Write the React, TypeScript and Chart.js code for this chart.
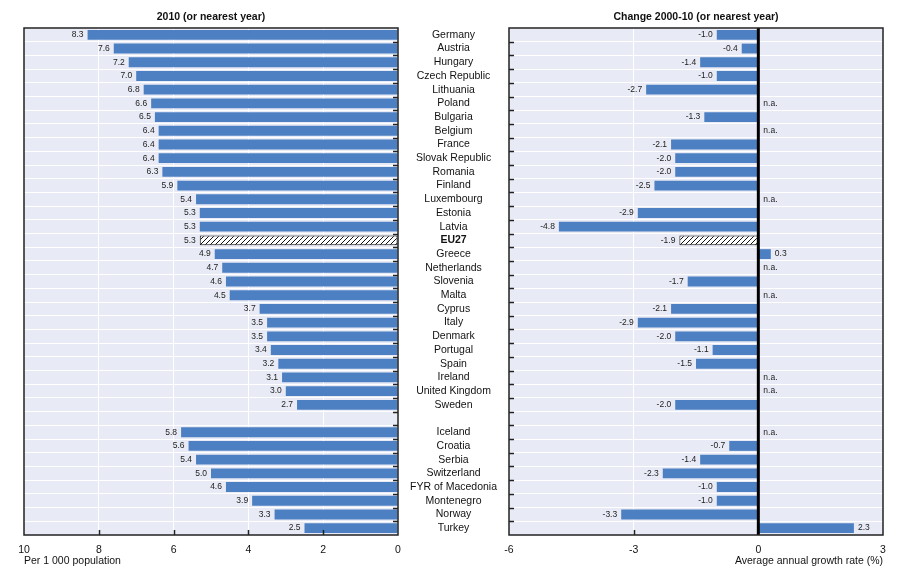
import React, { useEffect, useRef } from 'react';
import { Chart, registerables } from 'chart.js';
Chart.register(...registerables);

const countries = [
  'Germany', 'Austria', 'Hungary', 'Czech Republic', 'Lithuania', 'Poland', 'Bulgaria', 'Belgium',
  'France', 'Slovak Republic', 'Romania', 'Finland', 'Luxembourg', 'Estonia', 'Latvia', 'EU27',
  'Greece', 'Netherlands', 'Slovenia', 'Malta', 'Cyprus', 'Italy', 'Denmark', 'Portugal', 'Spain',
  'Ireland', 'United Kingdom', 'Sweden', '', 'Iceland', 'Croatia', 'Serbia', 'Switzerland',
  'FYR of Macedonia', 'Montenegro', 'Norway', 'Turkey',
];
const rate2010: (number | null)[] = [
  8.3, 7.6, 7.2, 7.0, 6.8, 6.6, 6.5, 6.4, 6.4, 6.4, 6.3, 5.9, 5.4, 5.3, 5.3, 5.3,
  4.9, 4.7, 4.6, 4.5, 3.7, 3.5, 3.5, 3.4, 3.2, 3.1, 3.0, 2.7, null,
  5.8, 5.6, 5.4, 5.0, 4.6, 3.9, 3.3, 2.5,
];
const change2000_10: (number | null)[] = [
  -1.0, -0.4, -1.4, -1.0, -2.7, null, -1.3, null, -2.1, -2.0, -2.0, -2.5, null, -2.9, -4.8, -1.9,
  0.3, null, -1.7, null, -2.1, -2.9, -2.0, -1.1, -1.5, null, null, -2.0, null,
  null, -0.7, -1.4, -2.3, -1.0, -1.0, -3.3, 2.3,
];
const highlight = 'EU27';
const leftTitle = '2010 (or nearest year)';
const rightTitle = 'Change 2000-10 (or nearest year)';
const leftAxisTitle = 'Per 1 000 population';
const rightAxisTitle = 'Average annual growth rate (%)';
const leftRange = { min: 0, max: 10, step: 2 };
const rightRange = { min: -6, max: 3, step: 3 };

const FONT = "'Liberation Sans', Arial, sans-serif";
const BLUE = '#4d80c3';
const PLOT_BG = '#e8ebf5';
const DARK = '#222222';

function makeHatch(): CanvasPattern | string {
  const c = document.createElement('canvas');
  c.width = 5;
  c.height = 5;
  const g = c.getContext('2d');
  if (!g) return '#ffffff';
  g.fillStyle = '#ffffff';
  g.fillRect(0, 0, 5, 5);
  g.strokeStyle = '#111111';
  g.lineWidth = 1;
  g.beginPath();
  g.moveTo(-1, 6);
  g.lineTo(6, -1);
  g.moveTo(-1, 1);
  g.lineTo(1, -1);
  g.moveTo(4, 6);
  g.lineTo(6, 4);
  g.stroke();
  const p = g.createPattern(c, 'repeat');
  return p || '#ffffff';
}

const panelPlugin = (title: string, side: 'left' | 'right') => ({
  id: 'panel' + side,
  beforeDraw(chart: any) {
    const { ctx, chartArea: a } = chart;
    ctx.save();
    ctx.fillStyle = PLOT_BG;
    ctx.fillRect(a.left, a.top, a.right - a.left, a.bottom - a.top);
    ctx.restore();
  },
  afterDatasetsDraw(chart: any) {
    const { ctx, chartArea: a } = chart;
    const xs = chart.scales.x;
    const ys = chart.scales.y;
    const data = chart.data.datasets[0].data as (number | null)[];
    const labels = chart.data.labels as string[];
    const meta = chart.getDatasetMeta(0);
    ctx.save();
    ctx.font = `8.5px ${FONT}`;
    ctx.fillStyle = DARK;
    ctx.textBaseline = 'middle';
    data.forEach((v, i) => {
      const y = ys.getPixelForValue(i);
      if (v === null || v === undefined) {
        if (side === 'right' && labels[i]) {
          ctx.textAlign = 'left';
          ctx.fillText('n.a.', xs.getPixelForValue(0) + 5, y);
        }
        return;
      }
      const el = meta.data[i];
      const txt = v.toFixed(1);
      if (side === 'left' || v < 0) {
        ctx.textAlign = 'right';
        ctx.fillText(txt, el.x - 4, y);
      } else {
        ctx.textAlign = 'left';
        ctx.fillText(txt, el.x + 4, y);
      }
    });
    // zero line
    if (side === 'right') {
      const x0 = xs.getPixelForValue(0);
      ctx.strokeStyle = '#000000';
      ctx.lineWidth = 3;
      ctx.beginPath();
      ctx.moveTo(x0, a.top);
      ctx.lineTo(x0, a.bottom);
      ctx.stroke();
    }
    // tick marks
    ctx.strokeStyle = DARK;
    ctx.lineWidth = 1.5;
    ctx.beginPath();
    const n = labels.length;
    for (let i = 0; i < n - 1; i++) {
      const yb = Math.round((ys.getPixelForValue(i) + ys.getPixelForValue(i + 1)) / 2) + 0.5;
      if (side === 'left') {
        ctx.moveTo(a.right - 5, yb);
        ctx.lineTo(a.right, yb);
      } else {
        ctx.moveTo(a.left, yb);
        ctx.lineTo(a.left + 5, yb);
      }
    }
    xs.ticks.forEach((t: any) => {
      const xv = t.value;
      if (xv === xs.min || xv === xs.max || xv === 0) return;
      const xp = Math.round(xs.getPixelForValue(xv)) + 0.5;
      ctx.moveTo(xp, a.bottom);
      ctx.lineTo(xp, a.bottom - 5);
    });
    ctx.stroke();
    // border
    ctx.strokeStyle = DARK;
    ctx.lineWidth = 1.5;
    ctx.strokeRect(a.left, a.top, a.right - a.left, a.bottom - a.top);
    // panel title
    ctx.font = `bold 10.5px ${FONT}`;
    ctx.fillStyle = '#111111';
    ctx.textAlign = 'center';
    ctx.textBaseline = 'middle';
    ctx.fillText(title, (a.left + a.right) / 2, 17);
    // axis title under the scale
    ctx.font = `10.5px ${FONT}`;
    if (side === 'left') {
      ctx.textAlign = 'left';
      ctx.fillText(leftAxisTitle, a.left, 561);
    } else {
      ctx.textAlign = 'right';
      ctx.fillText(rightAxisTitle, a.right, 561);
    }
    ctx.restore();
  },
});

function makeConfig(side: 'left' | 'right', hatch: any): any {
  const values = side === 'left' ? rate2010 : change2000_10;
  const range = side === 'left' ? leftRange : rightRange;
  return {
    type: 'bar',
    data: {
      labels: countries,
      datasets: [
        {
          data: values,
          backgroundColor: countries.map((c) => (c === highlight ? hatch : BLUE)),
          borderColor: countries.map((c) => (c === highlight ? '#111111' : BLUE)),
          borderWidth: countries.map((c) => (c === highlight ? 1 : 0)),
          borderSkipped: false,
          barPercentage: 0.72,
          categoryPercentage: 1,
        },
      ],
    },
    options: {
      indexAxis: 'y',
      animation: false,
      responsive: false,
      events: [],
      layout: {
        padding: side === 'left'
          ? { left: 24, right: 22, top: 28, bottom: 0 }
          : { left: 0, right: 24, top: 28, bottom: 0 },
      },
      plugins: { legend: { display: false }, tooltip: { enabled: false }, title: { display: false } },
      scales: {
        x: {
          type: 'linear',
          position: 'bottom',
          min: range.min,
          max: range.max,
          reverse: side === 'left',
          afterFit: (s: any) => { s.height = 40; },
          border: { display: false },
          grid: {
            drawTicks: false,
            lineWidth: 1,
            color: (c: any) => {
              const v = c.tick ? c.tick.value : null;
              if (v === range.min || v === range.max || v === 0) return 'rgba(0,0,0,0)';
              return '#ffffff';
            },
          },
          ticks: {
            stepSize: range.step,
            align: 'center',
            padding: 9,
            color: '#111111',
            font: { family: FONT, size: 10.5 },
            callback: (v: any) => String(v),
          },
          title: { display: false },
        },
        y: {
          type: 'category',
          position: side === 'left' ? 'right' : 'left',
          afterFit: (s: any) => { s.width = side === 'left' ? 0 : 109; },
          border: { display: false },
          grid: { drawTicks: false, color: '#ffffff', lineWidth: 1, offset: true },
          ticks: {
            display: side === 'right',
            autoSkip: false,
            crossAlign: 'center',
            padding: 12,
            color: '#111111',
            font: (c: any) => ({
              family: FONT,
              size: 10.5,
              weight: c.tick && c.tick.label === highlight ? 'bold' : 'normal',
            }),
          },
        },
      },
    },
    plugins: [panelPlugin(side === 'left' ? leftTitle : rightTitle, side)],
  };
}

export default function App() {
  const leftRef = useRef<HTMLCanvasElement>(null);
  const rightRef = useRef<HTMLCanvasElement>(null);
  useEffect(() => {
    const hatch = makeHatch();
    const l = new Chart(leftRef.current as HTMLCanvasElement, makeConfig('left', hatch));
    const r = new Chart(rightRef.current as HTMLCanvasElement, makeConfig('right', hatch));
    return () => {
      l.destroy();
      r.destroy();
    };
  }, []);
  return (
    <div style={{ position: 'absolute', left: 0, top: 0, width: 907, height: 575, background: '#ffffff' }}>
      <canvas ref={leftRef} width={420} height={575} style={{ position: 'absolute', left: 0, top: 0, width: 420, height: 575 }} />
      <canvas ref={rightRef} width={507} height={575} style={{ position: 'absolute', left: 400, top: 0, width: 507, height: 575 }} />
    </div>
  );
}
